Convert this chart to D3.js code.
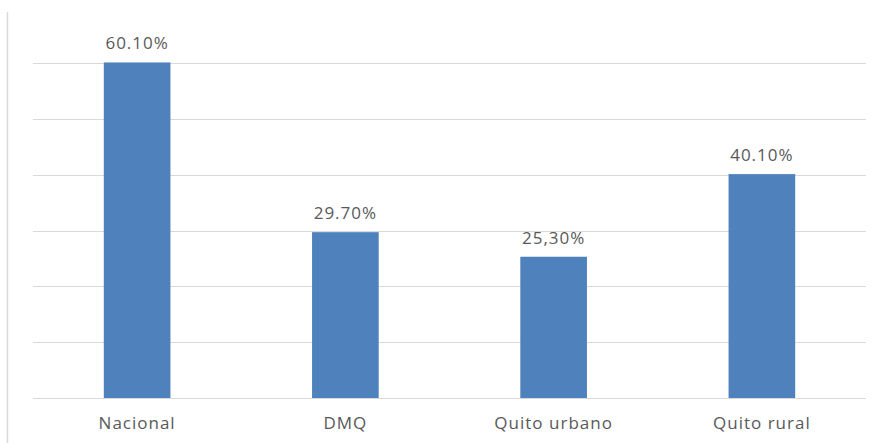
<!DOCTYPE html>
<html>
<head>
<meta charset="utf-8">
<script src="https://cdn.jsdelivr.net/npm/d3@7"></script>
<style>
  body { margin: 0; background: #fff; }
  text { font-family: "Open Sans", "Noto Sans", sans-serif; fill: #595959; letter-spacing: 1px; }
</style>
</head>
<body>
<script>
// chart data
var categories = ["Nacional", "DMQ", "Quito urbano", "Quito rural"];
var values = [60.10, 29.70, 25.30, 40.10];
var valueLabels = ["60.10%", "29.70%", "25,30%", "40.10%"];
var gridTicks = [0, 10, 20, 30, 40, 50, 60];

var width = 879,
    height = 443,
    plotLeft = 33,
    plotRight = 866,
    plotTop = 63,
    plotBottom = 398;

var svg = d3.select("body")
    .append("svg")
    .attr("width", width)
    .attr("height", height);

// left frame line
svg.append("line")
    .attr("x1", 7.5).attr("x2", 7.5)
    .attr("y1", 12).attr("y2", height)
    .attr("stroke", "#d9d9d9")
    .attr("stroke-width", 1.5);

var x = d3.scaleBand()
    .domain(categories)
    .range([plotLeft, plotRight])
    .paddingInner(0.68)
    .paddingOuter(0.34);

var y = d3.scaleLinear()
    .domain([0, 60])
    .range([plotBottom, plotTop]);

// gridlines
svg.selectAll(".grid")
    .data(gridTicks)
    .enter()
    .append("line")
    .attr("class", "grid")
    .attr("x1", plotLeft)
    .attr("x2", plotRight)
    .attr("y1", function (d) { return Math.round(y(d)) + 0.5; })
    .attr("y2", function (d) { return Math.round(y(d)) + 0.5; })
    .attr("stroke", "#d9d9d9")
    .attr("stroke-width", 1);

// bars
svg.selectAll(".bar")
    .data(values)
    .enter()
    .append("rect")
    .attr("class", "bar")
    .attr("x", function (d, i) { return x(categories[i]); })
    .attr("width", x.bandwidth())
    .attr("y", function (d) { return y(d); })
    .attr("height", function (d) { return y(0) - y(d); })
    .attr("fill", "#4f81bd");

// value labels
svg.selectAll(".valueLabel")
    .data(values)
    .enter()
    .append("text")
    .attr("class", "valueLabel")
    .attr("x", function (d, i) { return x(categories[i]) + x.bandwidth() / 2; })
    .attr("y", function (d) { return y(d) - 13; })
    .attr("text-anchor", "middle")
    .style("font-size", "17px")
    .text(function (d, i) { return valueLabels[i]; });

// category axis labels
svg.selectAll(".catLabel")
    .data(categories)
    .enter()
    .append("text")
    .attr("class", "catLabel")
    .attr("x", function (d) { return x(d) + x.bandwidth() / 2; })
    .attr("y", 429)
    .attr("text-anchor", "middle")
    .style("font-size", "17px")
    .text(function (d) { return d; });
</script>
</body>
</html>
